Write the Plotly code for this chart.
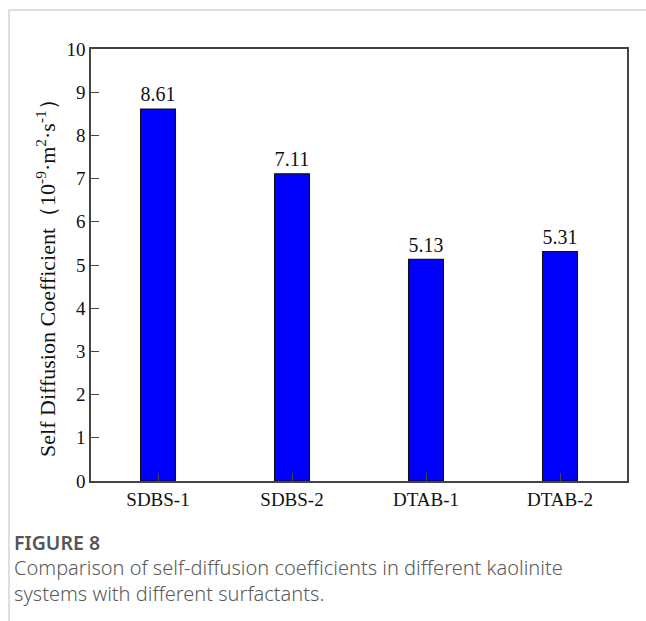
import plotly.graph_objects as go

# Self-diffusion coefficients (10^-9 m^2/s) for each surfactant system
systems = ["SDBS-1", "SDBS-2", "DTAB-1", "DTAB-2"]
diffusion = [8.61, 7.11, 5.13, 5.31]
y_ticks = [0, 1, 2, 3, 4, 5, 6, 7, 8, 9, 10]

caption_title = "FIGURE 8"
caption_lines = [
    "Comparison of self-diffusion coefficients in different kaolinite",
    "systems with different surfactants.",
]

serif = "Liberation Serif, Times New Roman, serif"
sans = "Noto Sans, Open Sans, sans-serif"

fig = go.Figure()
fig.add_trace(go.Bar(
    x=systems,
    y=diffusion,
    width=0.26,
    marker=dict(color="#0000FF", line=dict(color="#111111", width=1.2)),
    text=[f"{v:.2f}" for v in diffusion],
    textposition="outside",
    textfont=dict(family=serif, size=21, color="#111111"),
    cliponaxis=False,
))

axis_line = "#444444"
fig.update_layout(
    width=646, height=621,
    margin=dict(l=91, r=19, t=49, b=140),
    paper_bgcolor="white", plot_bgcolor="white",
    showlegend=False,
    bargap=0.74,
    xaxis=dict(
        showline=True, linecolor=axis_line, linewidth=1.5, mirror=True,
        ticks="inside", ticklen=8, tickcolor=axis_line, tickwidth=1,
        tickfont=dict(family=serif, size=19, color="#111111"),
        showgrid=False, zeroline=False,
    ),
    yaxis=dict(
        range=[0, 10], tickvals=y_ticks,
        showline=True, linecolor=axis_line, linewidth=1.5, mirror=True,
        ticks="inside", ticklen=8, tickcolor=axis_line, tickwidth=1,
        tickfont=dict(family=serif, size=19, color="#111111"),
        showgrid=False, zeroline=False,
    ),
)

# Axis title, rotated
fig.add_annotation(
    text="Self Diffusion Coefficient（10<sup>-9</sup>·m<sup>2</sup>·s<sup>-1</sup>）",
    xref="paper", yref="paper", x=-0.084, y=0.484,
    textangle=-90, showarrow=False,
    font=dict(family=serif, size=22, color="#111111"),
    xanchor="center", yanchor="middle",
)


# Caption below the chart (pixel positions converted to paper coords)
def px_x(px):
    return (px - 91) / 536


def px_y(py):
    return (481 - py) / 432


fig.add_annotation(
    text=caption_title,
    xref="paper", yref="paper", x=px_x(12), y=px_y(542),
    showarrow=False, xanchor="left", yanchor="middle",
    font=dict(family=sans, size=19.5, color="#555555", weight=600),
)
fig.add_annotation(
    text="<br>".join(caption_lines),
    xref="paper", yref="paper", x=px_x(12), y=px_y(580),
    showarrow=False, xanchor="left", yanchor="middle", align="left",
    font=dict(family=sans, size=20, color="#5a5a5a", weight=300),
)

# Thin panel frame on the top and left edges
fig.add_shape(type="line", xref="paper", yref="paper",
              x0=px_x(9), x1=px_x(646), y0=px_y(10), y1=px_y(10),
              line=dict(color="#d4d4d4", width=1.5))
fig.add_shape(type="line", xref="paper", yref="paper",
              x0=px_x(9), x1=px_x(9), y0=px_y(10), y1=px_y(621),
              line=dict(color="#d4d4d4", width=1.5))

fig.write_html("out.html")
